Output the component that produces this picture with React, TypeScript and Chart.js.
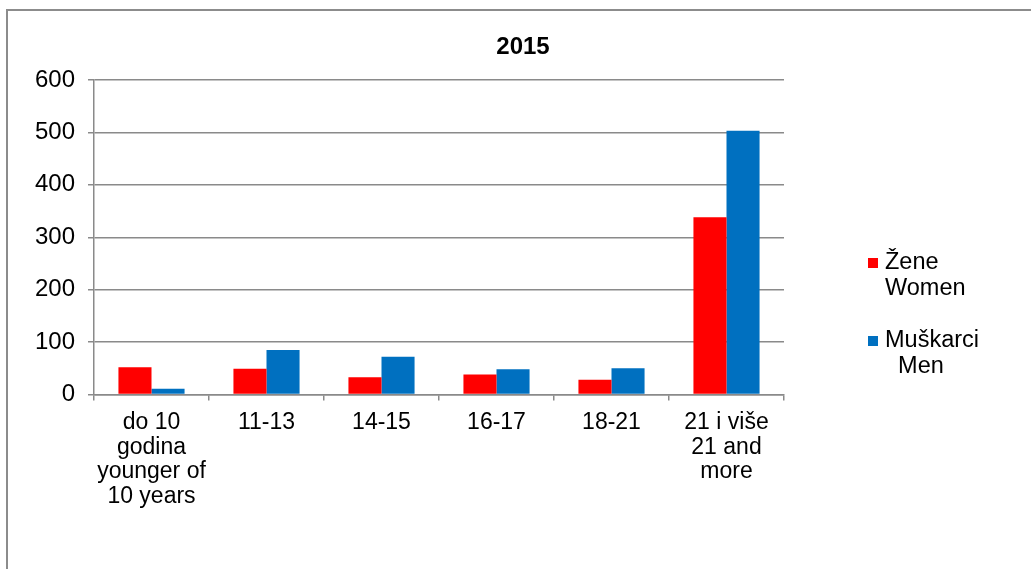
import React, { useEffect, useRef } from "react";
import { Chart, registerables } from "chart.js";

Chart.register(...registerables);

const FONT = '"Liberation Sans", Arial, Helvetica, sans-serif';

const titleText = "2015";
const categories: (string | string[])[] = [
  ["do 10", "godina", "younger of", "10 years"],
  "11-13",
  "14-15",
  "16-17",
  "18-21",
  ["21 i više", "21 and", "more"],
];
const women = [52, 49, 33, 38, 28, 338];
const men = [11, 85, 72, 48, 50, 503];
const yMin = 0;
const yMax = 600;
const yStep = 100;
const seriesNames = [
  ["Žene", "Women"],
  ["Muškarci", "  Men"],
];
const seriesColors = ["#FF0000", "#0070C0"];

const W = 1031;
const H = 569;

const decorPlugin = {
  id: "decor",
  beforeDraw(chart: any) {
    const ctx = chart.ctx;
    ctx.save();
    ctx.fillStyle = "#8c8c8c";
    ctx.fillRect(6, 9, 2, H);
    ctx.fillRect(6, 9, W, 2);
    ctx.restore();
  },
  afterDraw(chart: any) {
    const ctx = chart.ctx;
    ctx.save();
    ctx.fillStyle = "#000";
    ctx.textBaseline = "middle";
    ctx.textAlign = "center";
    ctx.font = "bold 24px " + FONT;
    ctx.fillText(titleText, 523, 47);

    ctx.textAlign = "left";
    ctx.font = "23.5px " + FONT;
    chart.data.datasets.forEach((ds: any, i: number) => {
      const y0 = 263 + i * 78;
      ctx.fillStyle = ds.backgroundColor;
      ctx.fillRect(868, y0 - 5, 10, 10);
      ctx.fillStyle = "#000";
      const lines = seriesNames[i];
      lines.forEach((line, j) => {
        ctx.fillText(line, 885, y0 + j * 26);
      });
    });
    ctx.restore();
  },
};

export default function App() {
  const ref = useRef<HTMLCanvasElement | null>(null);

  useEffect(() => {
    if (!ref.current) return;
    const chart = new Chart(ref.current, {
      type: "bar",
      data: {
        labels: categories,
        datasets: [
          {
            label: seriesNames[0].join(" "),
            data: women,
            backgroundColor: seriesColors[0],
            borderWidth: 0,
            categoryPercentage: 0.575,
            barPercentage: 1,
          },
          {
            label: seriesNames[1].map((s) => s.trim()).join(" "),
            data: men,
            backgroundColor: seriesColors[1],
            borderWidth: 0,
            categoryPercentage: 0.575,
            barPercentage: 1,
          },
        ],
      },
      options: {
        responsive: false,
        animation: false,
        layout: {
          padding: { top: 80, left: 0, right: W - 784, bottom: 24.5 },
        },
        plugins: {
          legend: { display: false },
          title: { display: false },
          tooltip: { enabled: false },
        },
        scales: {
          x: {
            afterFit: (scale: any) => {
              scale.height = 150;
            },
            grid: {
              offset: true,
              drawOnChartArea: false,
              drawTicks: true,
              tickLength: 6,
              color: "#8a8a8a",
              lineWidth: 1.5,
            },
            border: { color: "#8a8a8a", width: 1.5 },
            ticks: {
              color: "#000",
              padding: 10,
              maxRotation: 0,
              autoSkip: false,
              font: { family: FONT, size: 23, lineHeight: 1.07 },
            },
          },
          y: {
            min: yMin,
            max: yMax,
            afterFit: (scale: any) => {
              scale.width = 94;
            },
            grid: {
              color: "#8a8a8a",
              lineWidth: 1.5,
              tickLength: 6,
              drawTicks: true,
            },
            border: { color: "#8a8a8a", width: 1.5 },
            ticks: {
              stepSize: yStep,
              color: "#000",
              padding: 13,
              font: { family: FONT, size: 24 },
            },
          },
        },
      },
      plugins: [decorPlugin],
    });
    return () => chart.destroy();
  }, []);

  return (
    <div style={{ position: "absolute", left: 0, top: 0, width: W, height: H, background: "#fff" }}>
      <canvas ref={ref} width={W} height={H} style={{ width: W, height: H, display: "block" }} />
    </div>
  );
}
